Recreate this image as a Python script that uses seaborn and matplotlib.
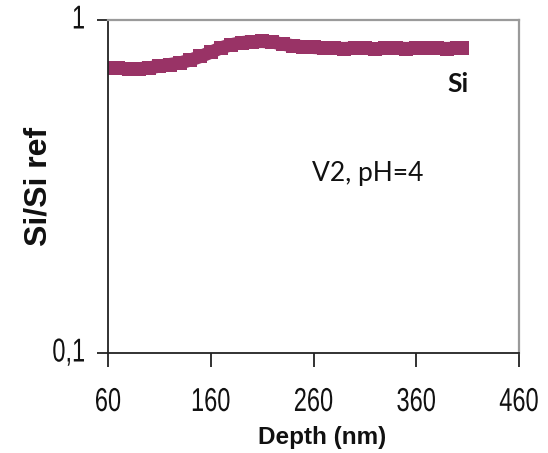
import numpy as np
import pandas as pd
import matplotlib
matplotlib.use("Agg")
import matplotlib.pyplot as plt
import seaborn as sns
from matplotlib.patheffects import AbstractPathEffect
from matplotlib.transforms import Affine2D

# Depth profile of the Si signal, normalised to the reference sample
depth_nm = [60, 70, 80, 90, 100, 110, 120, 130, 140, 150, 160, 170, 180, 190,
            200, 210, 220, 230, 240, 250, 260, 270, 280, 290, 300, 310, 320,
            330, 340, 350, 360, 370, 380, 390, 400, 405]
si_ratio = [0.720, 0.716, 0.714, 0.714, 0.718, 0.727, 0.735, 0.743, 0.758,
            0.777, 0.800, 0.825, 0.843, 0.855, 0.861, 0.862, 0.859, 0.846,
            0.837, 0.831, 0.827, 0.824, 0.822, 0.821, 0.823, 0.822, 0.820,
            0.822, 0.823, 0.821, 0.822, 0.824, 0.822, 0.821, 0.823, 0.822]

x_ticks = [60, 160, 260, 360, 460]
y_ticks = [0.1, 1]
y_tick_labels = ["0,1", "1"]

series_label = "Si"
condition_label = "V2, pH=4"
x_title = "Depth (nm)"
y_title = "Si/Si ref"


class Stretch(AbstractPathEffect):
    """Draw glyphs scaled about their baseline origin (tall, narrow digits)."""

    def __init__(self, sx=1.0, sy=1.0):
        super().__init__()
        self.sx, self.sy = sx, sy

    def draw_path(self, renderer, gc, tpath, affine, rgbFace=None):
        renderer.draw_path(gc, tpath, Affine2D().scale(self.sx, self.sy) + affine,
                           rgbFace)


sns.set_theme(style="white")

df = pd.DataFrame({"depth": depth_nm, "ratio": si_ratio})

fig = plt.figure(figsize=(5.48, 4.53), dpi=100)
ax = fig.add_axes([108 / 548, 1 - 353 / 453, 411 / 548, 333 / 453])

sns.lineplot(data=df, x="depth", y="ratio", ax=ax, color="#993366",
             linewidth=9.5, marker="s", markersize=9.5, markeredgewidth=0,
             solid_capstyle="butt")

ax.set_yscale("log")
ax.set_xlim(60, 460)
ax.set_ylim(0.1, 1)
ax.set_xticks(x_ticks)
ax.set_xticklabels([str(t) for t in x_ticks])
ax.yaxis.set_major_locator(matplotlib.ticker.FixedLocator(y_ticks))
ax.yaxis.set_major_formatter(matplotlib.ticker.FixedFormatter(y_tick_labels))
ax.yaxis.set_minor_locator(matplotlib.ticker.NullLocator())

ax.tick_params(axis="x", which="major", direction="out", length=10, width=1.3,
               color="#222222", pad=19.5, bottom=True)
ax.tick_params(axis="y", which="major", direction="out", length=8, width=1.3,
               color="#222222", pad=8.5, left=True)

for lbl in ax.get_xticklabels() + ax.get_yticklabels():
    lbl.set_fontfamily("Liberation Sans")
    lbl.set_fontsize(17)
    lbl.set_color("#111111")
    lbl.set_path_effects([Stretch(1.0, 1.4)])

for side in ("left", "bottom"):
    ax.spines[side].set_color("#222222")
    ax.spines[side].set_linewidth(1.3)
for side in ("top", "right"):
    ax.spines[side].set_color("#9a9a9a")
    ax.spines[side].set_linewidth(1.6)

ax.set_xlabel(x_title, fontfamily="Liberation Sans", fontweight="bold",
              fontsize=17.5, color="#111111")
ax.set_ylabel(y_title, fontfamily="Liberation Sans", fontweight="bold",
              fontsize=23, color="#111111")
ax.xaxis.set_label_coords(0.522, -0.22)
ax.yaxis.set_label_coords(-0.132, 0.5)

ax.text(401, 0.609, series_label, fontfamily="Lato", fontweight="bold",
        fontsize=19, ha="center", va="baseline", color="#111111")
ax.text(312.6, 0.329, condition_label, fontfamily="Lato", fontsize=19,
        ha="center", va="baseline", color="#111111")

fig.savefig("out.png", dpi=100, facecolor="white")
